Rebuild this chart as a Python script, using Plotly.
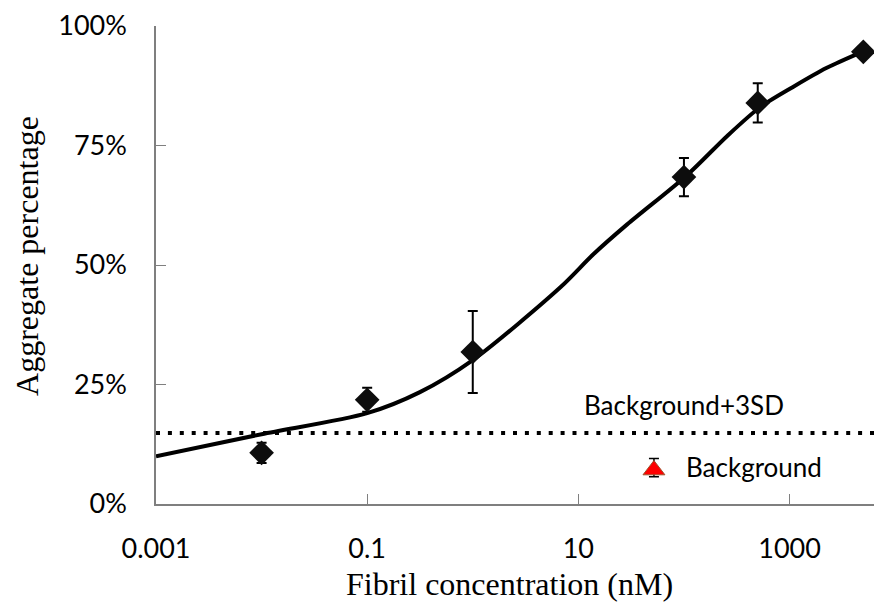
import plotly.graph_objects as go

# ---- data ----
conc_nM = [0.01, 0.1, 1, 100, 500, 5000]
aggregate = [0.107, 0.218, 0.318, 0.684, 0.839, 0.946]
aggregate_err = [0.021, 0.025, 0.086, 0.040, 0.041, 0.0]

# fitted curve at several concentrations
fit_conc = [0.001, 0.01, 0.1, 0.316, 1, 6.8, 13.8, 29, 107, 257, 525, 1070, 2230, 5000]
fit_value = [0.100, 0.146, 0.190, 0.234, 0.301, 0.454, 0.522, 0.585,
             0.688, 0.770, 0.830, 0.872, 0.912, 0.947]

background_conc = [52]
background_value = [0.071]
background_err_plus = [0.024]
background_err_minus = [0.014]

threshold = 0.1485  # Background + 3SD

x_tickvals = [0.001, 0.1, 10, 1000]
x_ticktext = ["0.001", "0.1", "10", "1000"]
y_tickvals = [0, 0.25, 0.5, 0.75, 1.0]
y_ticktext = ["0%", "25%", "50%", "75%", "100%"]

TICK_FONT = dict(family="Lato, Carlito, Calibri, sans-serif", size=27, color="#000000")
NOTE_FONT = dict(family="Lato, Carlito, Calibri, sans-serif", size=26, color="#000000")
TITLE_FONT = dict(family="Liberation Serif, Times New Roman, serif", size=32, color="#000000")

fig = go.Figure()

# fitted curve
fig.add_trace(go.Scatter(
    x=fit_conc, y=fit_value, mode="lines",
    line=dict(color="#000000", width=4, shape="spline", smoothing=0.8),
    showlegend=False, hoverinfo="skip",
))

# measured points
fig.add_trace(go.Scatter(
    x=conc_nM, y=aggregate, mode="markers",
    marker=dict(symbol="diamond", size=19, color="#0d0d0d"),
    error_y=dict(type="data", array=aggregate_err, visible=True,
                 color="#000000", thickness=2, width=5),
    showlegend=False, cliponaxis=False,
))

# background point
fig.add_trace(go.Scatter(
    x=background_conc, y=background_value, mode="markers",
    marker=dict(symbol="triangle-up", size=19, color="#ff0000",
                line=dict(color="#a0522d", width=1)),
    error_y=dict(type="data", symmetric=False, array=background_err_plus,
                 arrayminus=background_err_minus, visible=True,
                 color="#000000", thickness=1.5, width=5),
    showlegend=False,
))

# Background + 3SD dotted line
fig.add_shape(type="line", xref="paper", x0=0, x1=1, yref="y",
              y0=threshold, y1=threshold,
              line=dict(color="#000000", width=4, dash="4px,7.9px"))

fig.add_annotation(x=0.736, y=0.207, xref="paper", yref="paper",
                   text="Background+3SD", showarrow=False,
                   font=NOTE_FONT, xanchor="center", yanchor="middle")
fig.add_annotation(x=0.735, y=0.078, xref="paper", yref="paper",
                   text="Background", showarrow=False,
                   font=NOTE_FONT, xanchor="left", yanchor="middle")

# axis titles
fig.add_annotation(x=0.493, y=-0.167, xref="paper", yref="paper",
                   text="Fibril concentration (nM)", showarrow=False,
                   font=TITLE_FONT, xanchor="center", yanchor="middle")
fig.add_annotation(x=-0.179, y=0.52, xref="paper", yref="paper",
                   text="Aggregate percentage", showarrow=False, textangle=-90,
                   font=TITLE_FONT, xanchor="center", yanchor="middle")

fig.update_xaxes(
    type="log", range=[-3, 3.8],
    tickvals=x_tickvals, ticktext=x_ticktext,
    ticks="inside", ticklen=10, tickwidth=1, tickcolor="#7f7f7f",
    showline=True, linecolor="#7f7f7f", linewidth=1.5,
    showgrid=False, zeroline=False, tickfont=TICK_FONT,
    ticklabelstandoff=20,
)
fig.update_yaxes(
    range=[0, 1.0],
    tickvals=y_tickvals, ticktext=y_ticktext,
    ticks="inside", ticklen=10, tickwidth=1, tickcolor="#7f7f7f",
    showline=True, linecolor="#7f7f7f", linewidth=1.5,
    showgrid=False, zeroline=False, tickfont=TICK_FONT,
    ticklabelstandoff=22,
)

fig.update_layout(
    width=874, height=603,
    margin=dict(l=156, r=0, t=26, b=99),
    plot_bgcolor="#ffffff", paper_bgcolor="#ffffff",
    showlegend=False,
)

fig.write_html("out.html")
